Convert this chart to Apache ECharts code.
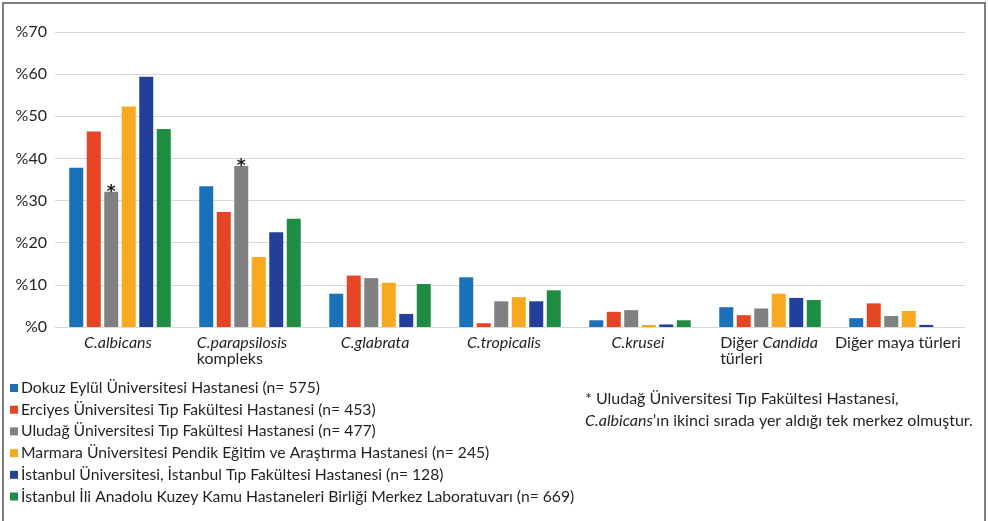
<!DOCTYPE html>
<html>
<head>
<meta charset="utf-8">
<script src="https://cdn.jsdelivr.net/npm/echarts@6/dist/echarts.min.js"></script>
<style>
  html, body { margin: 0; padding: 0; background: #fff; }
  #chart { width: 988px; height: 521px; }
</style>
</head>
<body>
<div id="chart"></div>
<script>
// kategoriler (etiket metni rich text ile)
const categories = [
  "{i|C.albicans}",
  "{i|C.parapsilosis}\n{n|kompleks}",
  "{i|C.glabrata}",
  "{i|C.tropicalis}",
  "{i|C.krusei}",
  "{n|Diğer }{i|Candida}\n{n|türleri}",
  "{n|Diğer maya türleri}"
];
const yTicks = [0, 10, 20, 30, 40, 50, 60, 70];

const seriesNames = [
  "Dokuz Eylül Üniversitesi Hastanesi (n= 575)",
  "Erciyes Üniversitesi Tıp Fakültesi Hastanesi (n= 453)",
  "Uludağ Üniversitesi Tıp Fakültesi Hastanesi (n= 477)",
  "Marmara Üniversitesi Pendik Eğitim ve Araştırma Hastanesi (n= 245)",
  "İstanbul Üniversitesi, İstanbul Tıp Fakültesi Hastanesi (n= 128)",
  "İstanbul İli Anadolu Kuzey Kamu Hastaneleri Birliği Merkez Laboratuvarı (n= 669)"
];
const dokuzEylul = [37.8, 33.4, 7.9, 11.8, 1.6, 4.7, 2.1];
const erciyes    = [46.4, 27.3, 12.2, 0.9, 3.6, 2.8, 5.6];
const uludag     = [32.1, 38.2, 11.6, 6.1, 4.0, 4.4, 2.6];
const marmara    = [52.3, 16.6, 10.5, 7.1, 0.5, 7.9, 3.8];
const istanbulTip = [59.4, 22.5, 3.1, 6.1, 0.6, 6.9, 0.5];
const anadoluKuzey = [47.0, 25.7, 10.2, 8.7, 1.6, 6.4, 0];
const starred = [0, 1]; // Uludağ'ın * işaretli kategorileri

const colors = ["#1b71b9", "#e54524", "#808080", "#f8a91f", "#22409a", "#1f8c44"];
// etiketlerin sola kayması (px)
const labelShift = [2, 8, 5, 6, 2, 1, 2];

const FONT = "Lato";
const TXT = "#231f20";

const chart = echarts.init(document.getElementById("chart"));

const allData = [dokuzEylul, erciyes, uludag, marmara, istanbulTip, anadoluKuzey];

const series = allData.map((vals, k) => ({
  name: seriesNames[k],
  type: "bar",
  barWidth: 14,
  barGap: "25%",
  itemStyle: { color: colors[k] },
  data: vals.map((v, i) => {
    if (k === 2 && starred.includes(i)) {
      return {
        value: v,
        label: {
          show: true, position: "top", distance: 0, offset: [0, 9],
          formatter: "*", color: "#1a1a1a", fontSize: 17, fontWeight: "bold",
          fontFamily: "DejaVu Sans"
        }
      };
    }
    return v;
  })
}));

chart.setOption({
  animation: false,
  color: colors,
  grid: { left: 55, right: 23, top: 32, bottom: 194, containLabel: false },
  xAxis: {
    type: "category",
    data: categories.map((c, i) => ({
      value: c,
      textStyle: { padding: [0, labelShift[i] * 2, 0, 0] }
    })),
    axisLine: { show: true, lineStyle: { color: "#d9d9d9", width: 1 } },
    axisTick: { show: false },
    axisLabel: {
      interval: 0,
      margin: 8,
      color: TXT,
      fontFamily: FONT,
      fontSize: 16,
      lineHeight: 16,
      rich: {
        i: { fontStyle: "italic", fontFamily: FONT, fontSize: 16, color: TXT, align: "left", lineHeight: 16 },
        n: { fontFamily: FONT, fontSize: 16, color: TXT, align: "left", lineHeight: 16 }
      }
    }
  },
  yAxis: {
    type: "value",
    min: yTicks[0],
    max: yTicks[yTicks.length - 1],
    interval: 10,
    axisLine: { show: false },
    axisTick: { show: false },
    axisLabel: {
      margin: 8,
      color: TXT,
      fontFamily: FONT,
      fontSize: 16,
      formatter: "%{value}"
    },
    splitLine: { lineStyle: { color: "#d9d9d9", width: 1 } }
  },
  legend: {
    orient: "vertical",
    left: 10,
    top: 380,
    padding: 0,
    itemWidth: 8,
    itemHeight: 8,
    itemGap: 5.7,
    icon: "rect",
    textStyle: { color: TXT, fontFamily: FONT, fontSize: 15.7, lineHeight: 16, padding: [0, 0, 0, -2] },
    data: seriesNames
  },
  graphic: [
    {
      type: "rect",
      shape: { x: 3, y: 3, width: 982, height: 540 },
      style: { fill: "none", stroke: "#555", lineWidth: 1.5 },
      silent: true
    },
    {
      type: "text",
      left: 585,
      top: 391,
      style: {
        text: "{n|* Uludağ Üniversitesi Tıp Fakültesi Hastanesi,}\n{i|C.albicans}{n|’ın ikinci sırada yer aldığı tek merkez olmuştur.}",
        rich: {
          n: { fontFamily: FONT, fontSize: 16, fill: TXT, lineHeight: 22 },
          i: { fontFamily: FONT, fontSize: 16, fill: TXT, fontStyle: "italic", lineHeight: 22 }
        }
      }
    }
  ],
  series: series
});
</script>
</body>
</html>
